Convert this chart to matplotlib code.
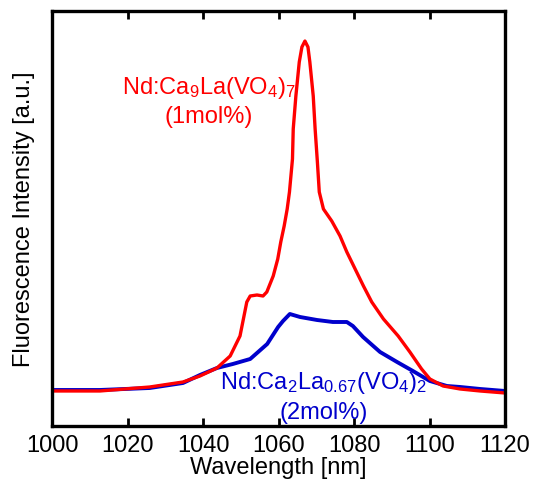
import numpy as np
import matplotlib.pyplot as plt

plt.rcParams['font.family'] = ['Liberation Sans', 'DejaVu Sans']
plt.rcParams['mathtext.default'] = 'regular'

# red sample: Nd:Ca9La(VO4)7 (1mol%)
wl_red = [1000, 1012.7, 1025.9, 1034.7, 1039.2, 1043.7, 1047.2, 1049.8, 1051.6, 1052.5,
          1054.3, 1055.9, 1056.9, 1058.6, 1059.8, 1060.6, 1061.5, 1062.3, 1062.9, 1063.7,
          1063.9, 1064.6, 1065.5, 1066.2, 1067.0, 1067.8, 1068.3, 1069.2, 1069.7, 1070.3,
          1070.8, 1071.9, 1074.1, 1076.3, 1078.1, 1080.3, 1082.5, 1084.7, 1087.8, 1091.7,
          1094.8, 1097.9, 1100.1, 1103.6, 1108.1, 1113.4, 1120]
int_red = [35, 35, 39, 44, 50, 58, 70, 90, 124, 130,
           131, 130, 134, 150, 167, 184, 200, 217, 234, 267,
           297, 330, 364, 379, 385, 379, 364, 330, 297, 264,
           234, 217, 205, 190, 174, 157, 140, 124, 107, 90,
           74, 57, 47, 40, 37, 35, 33]

# blue sample: Nd:Ca2La0.67(VO4)2 (2mol%)
wl_blue = [1000, 1012.7, 1025.9, 1034.7, 1039.2, 1043.7, 1047.9, 1052.5, 1057.0, 1059.9,
           1061.2, 1063.0, 1065.7, 1070.2, 1074.4, 1078.1, 1079.7, 1082.4, 1086.9, 1091.4,
           1095.6, 1100.1, 1104.6, 1108.1, 1113.4, 1120]
int_blue = [36, 36, 38, 43, 51, 58, 62, 67, 82, 99,
            105, 112, 109, 106, 104, 104, 100, 89, 74, 64,
            55, 45, 40, 39, 37, 35]

fig = plt.figure(figsize=(5.34, 4.81), dpi=100)
ax = fig.add_axes([0.0974, 0.1123, 0.8483, 0.8627])

ax.plot(wl_blue, int_blue, color='#0000cc', lw=2.8)
ax.plot(wl_red, int_red, color='#ff0000', lw=2.4)

ax.set_xlim(1000, 1120)
ax.set_ylim(0, 415)
ax.set_xticks(np.arange(1000, 1121, 20))
ax.set_yticks([])
ax.tick_params(axis='x', direction='in', top=True, length=6, width=2, labelsize=17, pad=6)
for s in ax.spines.values():
    s.set_linewidth(2.4)

ax.set_xlabel('Wavelength [nm]', fontsize=17, labelpad=0)
ax.set_ylabel('Fluorescence Intensity [a.u.]', fontsize=17, labelpad=12)

ax.text(1041.5, 339, 'Nd:Ca$_9$La(VO$_4$)$_7$', color='#ff0000', fontsize=17, ha='center', va='center')
ax.text(1041.5, 310, '(1mol%)', color='#ff0000', fontsize=17, ha='center', va='center')
ax.text(1072, 44, 'Nd:Ca$_2$La$_{0.67}$(VO$_4$)$_2$', color='#0000cc', fontsize=17, ha='center', va='center')
ax.text(1072, 14, '(2mol%)', color='#0000cc', fontsize=17, ha='center', va='center')

fig.savefig('out.png', dpi=100)
